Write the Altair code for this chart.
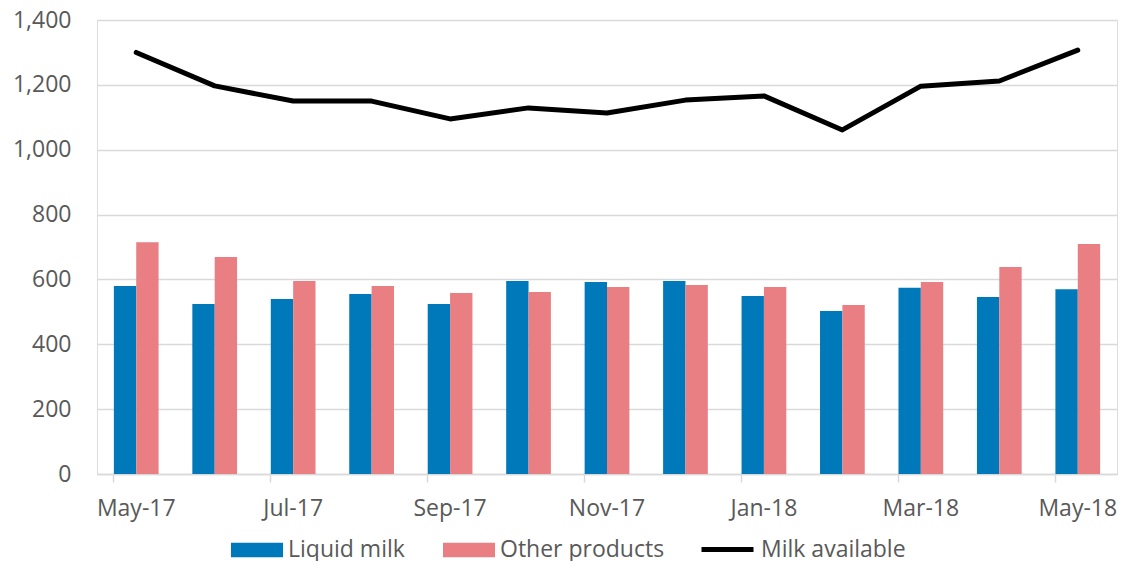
import altair as alt
import pandas as pd

months = ["May-17", "Jun-17", "Jul-17", "Aug-17", "Sep-17", "Oct-17", "Nov-17",
          "Dec-17", "Jan-18", "Feb-18", "Mar-18", "Apr-18", "May-18"]
liquid_milk = [580, 524, 540, 555, 524, 595, 592, 595, 549, 503, 574, 546, 570]
other_products = [715, 669, 595, 580, 558, 561, 577, 583, 577, 521, 592, 638, 709]
milk_available = [1300, 1197, 1150, 1150, 1095, 1129, 1113, 1153, 1166, 1061, 1196, 1212, 1307]
tick_labels = ["May-17", "Jul-17", "Sep-17", "Nov-17", "Jan-18", "Mar-18", "May-18"]
y_ticks = [0, 200, 400, 600, 800, 1000, 1200, 1400]

bars_df = pd.DataFrame({
    "month": months * 2,
    "series": ["Liquid milk"] * len(months) + ["Other products"] * len(months),
    "value": liquid_milk + other_products,
})
line_df = pd.DataFrame({
    "month": months,
    "series": ["Milk available"] * len(months),
    "value": milk_available,
})

GRAY = "#D9D9D9"
TEXT = "#595959"
RECT = "M-1,-0.55H3V0.55H-1Z"
LINE = "M-1,0H3"

x_axis = alt.Axis(values=tick_labels, title=None, labelAngle=0, bandPosition=0,
                  tickSize=8, tickColor=GRAY, tickWidth=1.5, domainColor=GRAY,
                  domainWidth=1.5, labelPadding=15, labelFontSize=23,
                  labelColor=TEXT, grid=False)
x_scale = alt.Scale(paddingInner=0.43, paddingOuter=0.215)
y_enc = alt.Y("value:Q", scale=alt.Scale(domain=[0, 1400]),
              axis=alt.Axis(values=y_ticks, format=",.0f", title=None, domain=False,
                            ticks=False, gridColor=GRAY, gridWidth=1.5,
                            labelPadding=26, labelFontSize=23, labelColor=TEXT))

bars = alt.Chart(bars_df).mark_bar().encode(
    x=alt.X("month:N", sort=months, scale=x_scale, axis=x_axis),
    xOffset=alt.XOffset("series:N", scale=alt.Scale(paddingInner=0, paddingOuter=0)),
    y=y_enc,
    fill=alt.Fill("series:N",
                  scale=alt.Scale(domain=["Liquid milk", "Other products"],
                                  range=["#0079BB", "#E97E83"]),
                  legend=alt.Legend(title=None, orient="none", direction="horizontal",
                                    legendX=134, legendY=517, symbolType=RECT,
                                    symbolSize=676, symbolStrokeWidth=0,
                                    labelOffset=31, columnPadding=38, labelLimit=400,
                                    labelFontSize=23, labelColor=TEXT, padding=0)),
)

line = alt.Chart(line_df).mark_line(strokeWidth=5, strokeCap="round",
                                    strokeJoin="round").encode(
    x=alt.X("month:N", sort=months, scale=x_scale, axis=x_axis),
    y=y_enc,
    stroke=alt.Stroke("series:N",
                      scale=alt.Scale(domain=["Milk available"], range=["#000000"]),
                      legend=alt.Legend(title=None, orient="none", direction="horizontal",
                                        legendX=602, legendY=514, symbolType=LINE,
                                        symbolSize=676, symbolStrokeWidth=5,
                                        labelOffset=31, labelFontSize=23, labelLimit=400,
                                        labelColor=TEXT, padding=0)),
)

chart = alt.layer(bars, line).properties(
    width=1020, height=454,
    autosize=alt.AutoSizeParams(type="none"),
    padding={"left": 89, "top": 12, "right": 1, "bottom": 87},
).configure_view(stroke=None).configure(font="Open Sans")

chart.save("out.html", embed_options={"renderer": "svg", "actions": False})
